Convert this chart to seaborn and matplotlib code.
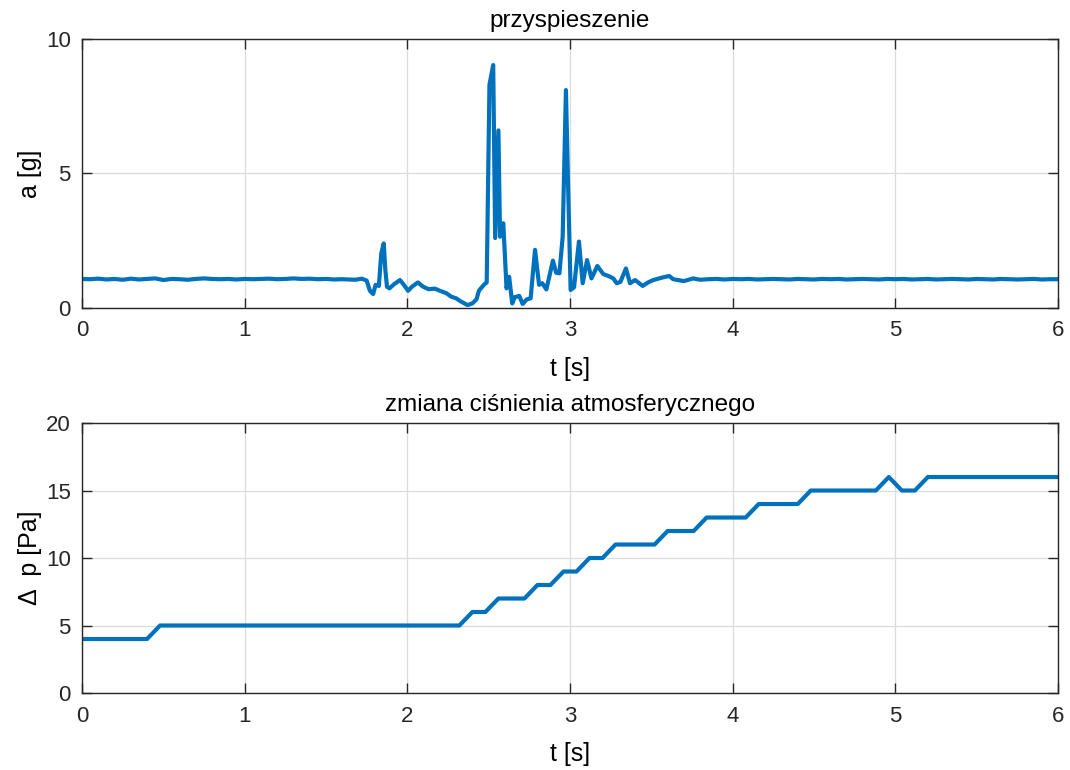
import numpy as np
import pandas as pd
import matplotlib
matplotlib.use("Agg")
import matplotlib.pyplot as plt
import seaborn as sns

# --- Datos ---
# przyspieszenie: czas [s] i wartość [g]
t_acc = [0.00, 0.05, 0.10, 0.15, 0.20, 0.25, 0.30, 0.35, 0.40, 0.45,
         0.50, 0.55, 0.60, 0.65, 0.70, 0.75, 0.80, 0.85, 0.90, 0.95,
         1.00, 1.05, 1.10, 1.15, 1.20, 1.25, 1.30, 1.35, 1.40, 1.45,
         1.50, 1.55, 1.60, 1.65, 1.68, 1.72, 1.75, 1.77, 1.79, 1.805,
         1.825, 1.84, 1.855, 1.865, 1.875, 1.89, 1.92, 1.955, 1.975, 2.005,
         2.03, 2.065, 2.095, 2.13, 2.17, 2.20, 2.24, 2.27, 2.30, 2.33,
         2.37, 2.40, 2.425, 2.44, 2.47, 2.488, 2.505, 2.528, 2.54, 2.56,
         2.57, 2.59, 2.61, 2.626, 2.645, 2.66, 2.688, 2.709, 2.734, 2.758,
         2.785, 2.81, 2.83, 2.855, 2.895, 2.915, 2.935, 2.955, 2.975, 2.99,
         3.004, 3.025, 3.055, 3.078, 3.105, 3.132, 3.168, 3.205, 3.24, 3.266,
         3.287, 3.31, 3.344, 3.369, 3.40, 3.447, 3.48, 3.512, 3.573, 3.61,
         3.635, 3.70, 3.758, 3.80, 3.85, 3.90, 3.95, 4.00, 4.05, 4.10,
         4.15, 4.20, 4.25, 4.30, 4.35, 4.40, 4.45, 4.50, 4.55, 4.60,
         4.65, 4.70, 4.75, 4.80, 4.85, 4.90, 4.95, 5.00, 5.05, 5.10,
         5.15, 5.20, 5.25, 5.30, 5.35, 5.40, 5.45, 5.50, 5.55, 5.60,
         5.65, 5.70, 5.75, 5.80, 5.85, 5.90, 5.95, 6.00]
a_acc = [1.08, 1.07, 1.09, 1.06, 1.08, 1.05, 1.09, 1.06, 1.08, 1.10,
         1.04, 1.08, 1.07, 1.05, 1.08, 1.10, 1.08, 1.07, 1.08, 1.06,
         1.08, 1.07, 1.08, 1.09, 1.07, 1.08, 1.10, 1.08, 1.09, 1.07,
         1.08, 1.06, 1.07, 1.06, 1.05, 1.09, 1.02, 0.64, 0.52, 0.86,
         0.82, 2.03, 2.40, 1.41, 0.79, 0.73, 0.89, 1.04, 0.89, 0.64,
         0.80, 0.95, 0.80, 0.70, 0.72, 0.64, 0.55, 0.42, 0.36, 0.24,
         0.11, 0.17, 0.32, 0.64, 0.86, 0.95, 8.30, 9.03, 2.60, 6.60,
         2.65, 3.15, 0.73, 1.16, 0.17, 0.40, 0.45, 0.15, 0.32, 0.36,
         2.16, 0.86, 0.92, 0.69, 1.76, 1.31, 1.29, 2.65, 8.10, 4.14,
         0.67, 0.77, 2.47, 0.92, 1.78, 1.10, 1.56, 1.26, 1.18, 1.10,
         0.92, 0.97, 1.47, 0.92, 1.04, 0.82, 0.95, 1.04, 1.14, 1.19,
         1.07, 1.00, 1.10, 1.05, 1.07, 1.08, 1.06, 1.08, 1.07, 1.08,
         1.06, 1.07, 1.08, 1.07, 1.06, 1.08, 1.07, 1.06, 1.08, 1.07,
         1.08, 1.06, 1.07, 1.08, 1.07, 1.06, 1.08, 1.07, 1.08, 1.06,
         1.07, 1.08, 1.06, 1.07, 1.08, 1.07, 1.06, 1.08, 1.07, 1.06,
         1.08, 1.07, 1.06, 1.07, 1.08, 1.06, 1.07, 1.07]

# zmiana ciśnienia: próbki co 0.08 s
dt_p = 0.08
dp = [4, 4, 4, 4, 4, 4, 5, 5, 5, 5,
      5, 5, 5, 5, 5, 5, 5, 5, 5, 5,
      5, 5, 5, 5, 5, 5, 5, 5, 5, 5,
      6, 6, 7, 7, 7, 8, 8, 9, 9, 10,
      10, 11, 11, 11, 11, 12, 12, 12, 13, 13,
      13, 13, 14, 14, 14, 14, 15, 15, 15, 15,
      15, 15, 16, 15, 15, 16, 16, 16, 16, 16,
      16, 16, 16, 16, 16, 16]
t_p = np.arange(len(dp)) * dt_p

titles = ["przyspieszenie", "zmiana ciśnienia atmosferycznego"]
ylabels = ["a [g]", "Δ  p [Pa]"]
xticks = [0, 1, 2, 3, 4, 5, 6]
yticks_acc = [0, 5, 10]
yticks_p = [0, 5, 10, 15, 20]

LINE_COLOR = "#0072BD"
AX_COLOR = "#262626"

sns.set_style("white")
plt.rcParams['font.family'] = ['Liberation Sans', 'DejaVu Sans']

fig = plt.figure(figsize=(10.7, 7.7), dpi=100)
ax1 = fig.add_axes([0.0766, 0.600, 0.9122, 0.3494])
ax2 = fig.add_axes([0.0766, 0.100, 0.9122, 0.3506])

df_acc = pd.DataFrame({"t": t_acc, "a": a_acc})
df_p = pd.DataFrame({"t": t_p, "dp": dp})

sns.lineplot(data=df_acc, x="t", y="a", ax=ax1, color=LINE_COLOR,
             linewidth=3.0, estimator=None, sort=False)
sns.lineplot(data=df_p, x="t", y="dp", ax=ax2, color=LINE_COLOR,
             linewidth=3.0, estimator=None, sort=False)

for ax, title, ylab, yt in zip([ax1, ax2], titles, ylabels, [yticks_acc, yticks_p]):
    ax.set_xlim(0, 6)
    ax.set_ylim(yt[0], yt[-1])
    ax.set_xticks(xticks)
    ax.set_yticks(yt)
    # y fijo para desactivar el auto-posicionamiento del título
    ax.set_title(title, fontsize=17.5, color="black", y=1.0, pad=8.5)
    ax.set_xlabel("t [s]", fontsize=18, color="black", labelpad=11)
    ax.set_ylabel(ylab, fontsize=18, color="black", labelpad=3)
    ax.grid(True, color="#dcdcdc", linewidth=0.9)
    ax.set_axisbelow(True)
    for s in ax.spines.values():
        s.set_visible(True)
        s.set_color(AX_COLOR)
        s.set_linewidth(1.0)
    ax.tick_params(direction="in", length=7, width=1.0, colors=AX_COLOR,
                   labelcolor=AX_COLOR, labelsize=16,
                   top=True, right=True, bottom=True, left=True)
    ax.tick_params(axis="x", pad=9)
    ax.tick_params(axis="y", pad=8)

plt.savefig("out.png", dpi=100)
